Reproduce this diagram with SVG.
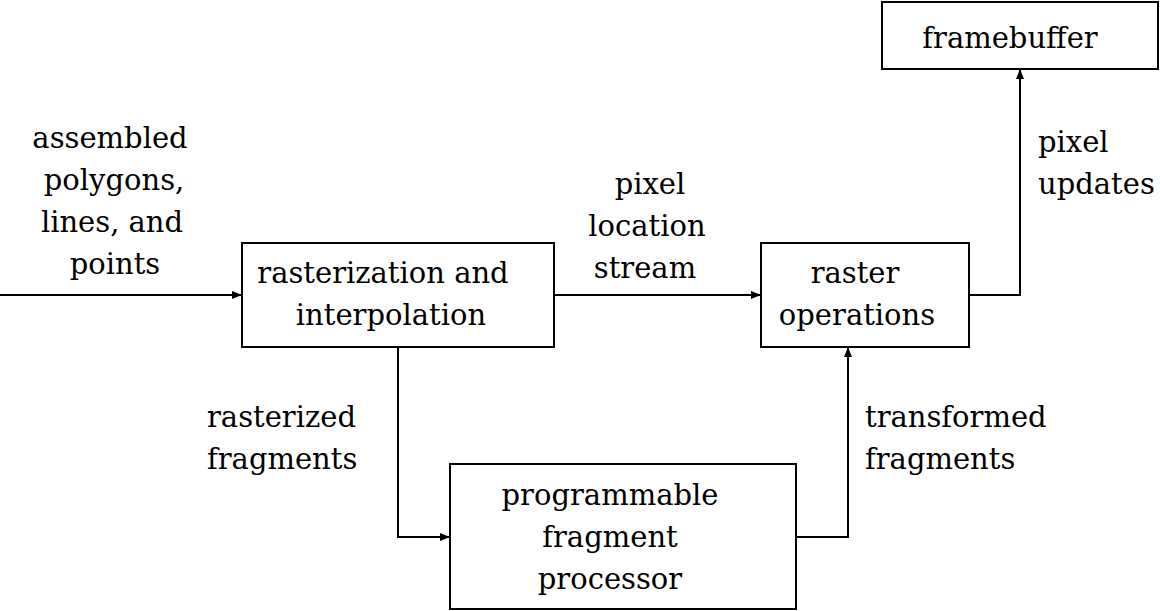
<svg xmlns="http://www.w3.org/2000/svg" width="1160" height="611" viewBox="0 0 1160 611">
<style>
.box{fill:#fff;stroke:#000;stroke-width:2}
.ln{fill:none;stroke:#000;stroke-width:2}
text{font-family:'DejaVu Serif','Liberation Serif',serif;font-size:29px;fill:#000}
.c{text-anchor:middle}
</style>
<defs>
<marker id="ah" viewBox="0 0 10 8" refX="10" refY="4" markerWidth="10" markerHeight="8" markerUnits="userSpaceOnUse" orient="auto">
<path d="M0,0 L10,4 L0,8 z" fill="#000"/>
</marker>
</defs>
<rect width="1160" height="611" fill="#fff"/>
<g id="connectors">
<path class="ln" d="M0,295 H242" marker-end="url(#ah)"/>
<path class="ln" d="M554,295 H761" marker-end="url(#ah)"/>
<path class="ln" d="M969,295 H1020 V69" marker-end="url(#ah)"/>
<path class="ln" d="M398,347 V537 H450" marker-end="url(#ah)"/>
<path class="ln" d="M796,537 H848 V347" marker-end="url(#ah)"/>
</g>
<g id="labels">
<text class="c" x="110" y="148">assembled</text>
<text class="c" x="114" y="190">polygons,</text>
<text class="c" x="112" y="232">lines, and</text>
<text class="c" x="115" y="274">points</text>
<text class="c" x="650" y="194">pixel</text>
<text class="c" x="647" y="236">location</text>
<text class="c" x="645" y="278">stream</text>
<text x="1038" y="152">pixel</text>
<text x="1038" y="194">updates</text>
<text x="207" y="427">rasterized</text>
<text x="207" y="469">fragments</text>
<text x="865" y="427">transformed</text>
<text x="865" y="469">fragments</text>
</g>
<g id="rasterization">
<rect class="box" x="242" y="243" width="312" height="104"/>
<text class="c" x="383" y="283">rasterization and</text>
<text class="c" x="391" y="325">interpolation</text>
</g>
<g id="raster-operations">
<rect class="box" x="761" y="243" width="208" height="104"/>
<text class="c" x="855" y="283">raster</text>
<text class="c" x="857" y="325">operations</text>
</g>
<g id="framebuffer">
<rect class="box" x="882" y="2" width="276" height="67"/>
<text class="c" x="1010" y="48">framebuffer</text>
</g>
<g id="fragment-processor">
<rect class="box" x="450" y="464" width="346" height="145"/>
<text class="c" x="610" y="505">programmable</text>
<text class="c" x="610" y="547">fragment</text>
<text class="c" x="610" y="589">processor</text>
</g>
</svg>
